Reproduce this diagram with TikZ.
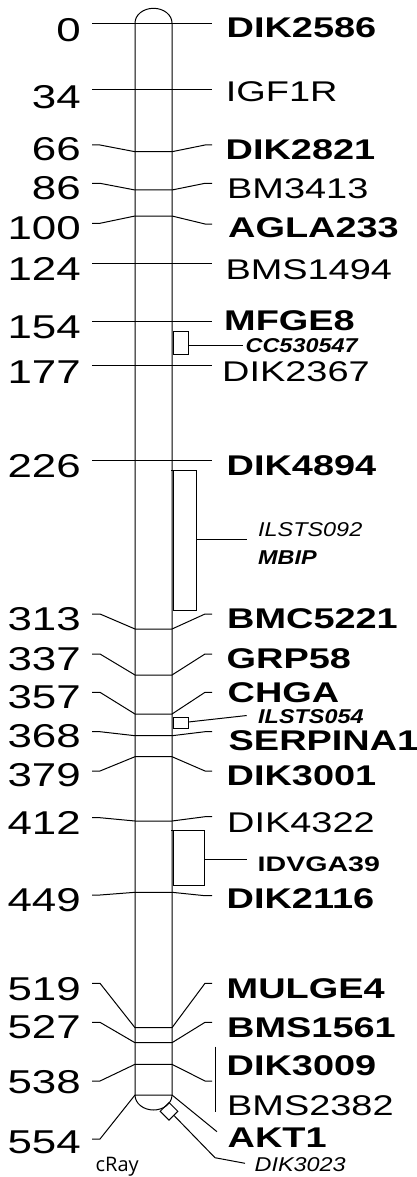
\documentclass[tikz,border=0pt]{standalone}
\usepackage{fontspec}
\setmainfont{Liberation Sans}
\newfontfamily\bigf[FakeStretch=1.33]{Liberation Sans}
\newfontfamily\smallf[FakeStretch=1.17]{Liberation Sans}
\newfontfamily\idvf[FakeStretch=1.36]{Liberation Sans}
\newfontfamily\crayf{Open Sans}
\tikzset{
  num/.style={anchor=east, inner sep=0pt, font=\bigf\fontsize{33}{33}\selectfont},
  rlab/.style={anchor=west, inner sep=0pt, font=\bigf\fontsize{28.5}{28.5}\selectfont},
  blab/.style={anchor=west, inner sep=0pt, font=\bigf\bfseries\fontsize{28.5}{28.5}\selectfont},
  ilab/.style={anchor=west, inner sep=0pt, font=\smallf\itshape\fontsize{20}{20}\selectfont},
  bilab/.style={anchor=west, inner sep=0pt, font=\smallf\bfseries\itshape\fontsize{20}{20}\selectfont},
  idlab/.style={anchor=west, inner sep=0pt, font=\idvf\bfseries\fontsize{21}{21}\selectfont},
  link/.style={line width=1pt, line join=miter},
}
\begin{document}
\begin{tikzpicture}[x=1pt,y=-1pt]
\useasboundingbox (0,0) rectangle (416,1177);

% chromosome outline
\coordinate (chrTL) at (135,23);
\coordinate (chrTR) at (172,23);
\coordinate (chrBL) at (135,1095);
\coordinate (chrBR) at (172,1095);
\draw[link] (chrBL) -- (chrTL) arc[start angle=180,end angle=0,x radius=18.5pt,y radius=14.7pt]
  -- (chrBR) arc[start angle=0,end angle=-180,x radius=18.5pt,y radius=15pt];

% position numbers
\foreach \nm/\t/\y in {n0/0/30.3, n34/34/96.7, n66/66/149, n86/86/188, n100/100/228,
  n124/124/269, n154/154/327.5, n177/177/371.7, n226/226/466, n313/313/619,
  n337/337/659, n357/357/697.5, n368/368/736, n379/379/775, n412/412/822.5,
  n449/449/900, n519/519/989, n527/527/1027.5, n538/538/1082.5, n554/554/1142.5}
  \node[num] (\nm) at (81,\y) {\t};

% marker labels
\foreach \nm/\st/\x/\y/\t in {
  mDIKa/blab/226.5/28/DIK2586, mIGF/rlab/225.7/92/IGF1R, mDIKb/blab/225.5/150/DIK2821,
  mBM/rlab/227/189/BM3413, mAGLA/blab/228/227.5/AGLA233, mBMSa/rlab/225.3/269.7/BMS1494,
  mMFGE/blab/224/321/MFGE8, mDIKc/rlab/222/372/DIK2367, mDIKd/blab/226.5/466/DIK4894,
  mBMC/blab/227/619/BMC5221, mGRP/blab/226.5/659/GRP58, mCHGA/blab/227.5/692.5/CHGA,
  mSERP/blab/228.5/741/SERPINA1, mDIKe/blab/226.5/776/DIK3001, mDIKf/rlab/227/822.5/DIK4322,
  mDIKg/blab/226.5/899/DIK2116, mMUL/blab/226.5/989/MULGE4, mBMSb/blab/227/1027.5/BMS1561,
  mDIKh/blab/226.5/1066/DIK3009, mBMSc/rlab/227/1106/BMS2382, mAKT/blab/227.5/1137.5/AKT1}
  \node[\st] (\nm) at (\x,\y) {\t};

\node[bilab] (mCC) at (245.5,345.5) {CC530547};
\node[ilab] (mILa) at (258,530) {ILSTS092};
\node[bilab] (mMBIP) at (258,558) {MBIP};
\node[bilab] (mILb) at (258,717) {ILSTS054};
\node[idlab] (mIDV) at (257.5,864) {IDVGA39};
\node[ilab] (mDIKi) at (254.5,1165) {DIK3023};
\node[anchor=base west, inner sep=0pt, font=\crayf\fontsize{20}{20}\selectfont] (cray) at (95.5,1171.7) {cRay};

% connector lines: outer end, stub, chromosome left, chromosome right, stub, outer end
\foreach \id/\yl/\yc/\yr in {a/23.3/23.3/23.3, b/89.3/89.3/89.3, c/145/151.7/145,
  d/183.3/190/183.3, e/223.3/216/224, f/263.3/263.3/263.3, g/321.7/321.7/321.7,
  h/365.7/365.7/365.7, i/460.7/460.7/460.7, j/614/629/614, k/654/675/654,
  l/692.3/714/692.3, m/731.7/735.7/731.7, n/771/756.7/771, o/817.7/821/816.7,
  p/895/892.3/895.7, q/983.3/1027.7/983.3, r/1022.3/1042.7/1022.3, s/1081/1064.3/1081}{
  \coordinate (L\id) at (92,\yl);
  \coordinate (Ls\id) at (100,\yl);
  \coordinate (Cl\id) at (135,\yc);
  \coordinate (Cr\id) at (172,\yc);
  \coordinate (Rs\id) at (205,\yr);
  \coordinate (R\id) at (212,\yr);
  \draw[link] (L\id) -- (Ls\id) -- (Cl\id) -- (Cr\id) -- (Rs\id) -- (R\id);
}
% bottom marker 554 / AKT1
\coordinate (Lt) at (92,1139);
\coordinate (Lst) at (100,1139);
\coordinate (Rt) at (217,1131.7);
\draw[link] (Lt) -- (Lst) -- (chrBL) -- (chrBR) -- (Rt);

% bracket CC530547
\coordinate (ccA) at (173.5,331.7);
\coordinate (ccB) at (188,354.3);
\coordinate (ccM) at (188,345);
\coordinate (ccE) at (242.7,345);
\draw[link] (ccA) rectangle (ccB);
\draw[link] (ccM) -- (ccE);

% bracket ILSTS092 / MBIP
\coordinate (ilA) at (173.5,470.7);
\coordinate (ilB) at (196,610);
\coordinate (ilM) at (196,539.3);
\coordinate (ilE) at (246.7,539.3);
\draw[link] (171,470.7) -- (ilA);
\draw[link] (ilA) rectangle (ilB);
\draw[link] (ilM) -- (ilE);

% bracket ILSTS054
\coordinate (i5A) at (173.5,717.3);
\coordinate (i5B) at (188.3,728.3);
\coordinate (i5M) at (188.3,722);
\coordinate (i5E) at (246.7,715.5);
\draw[link] (i5A) rectangle (i5B);
\draw[link] (i5M) -- (i5E);

% bracket IDVGA39
\coordinate (idA) at (173.5,830);
\coordinate (idB) at (204,885);
\coordinate (idM) at (204,859.3);
\coordinate (idE) at (246.7,859.3);
\draw[link] (171,830) -- (idA);
\draw[link] (idA) rectangle (idB);
\draw[link] (idM) -- (idE);

% bar DIK3009 / BMS2382
\coordinate (barT) at (215,1046.7);
\coordinate (barB) at (215,1111.7);
\draw[link] (barT) -- (barB);

% DIK3023 square
\node[draw, line width=1pt, minimum size=12.5pt, inner sep=0pt, rotate=45] (sq) at (169,1111.3) {};
\coordinate (sqE) at (174,1115.5);
\coordinate (dkA) at (215,1157.7);
\coordinate (dkB) at (245,1163.3);
\draw[link] (sqE) -- (dkA) -- (dkB);
\end{tikzpicture}
\end{document}
